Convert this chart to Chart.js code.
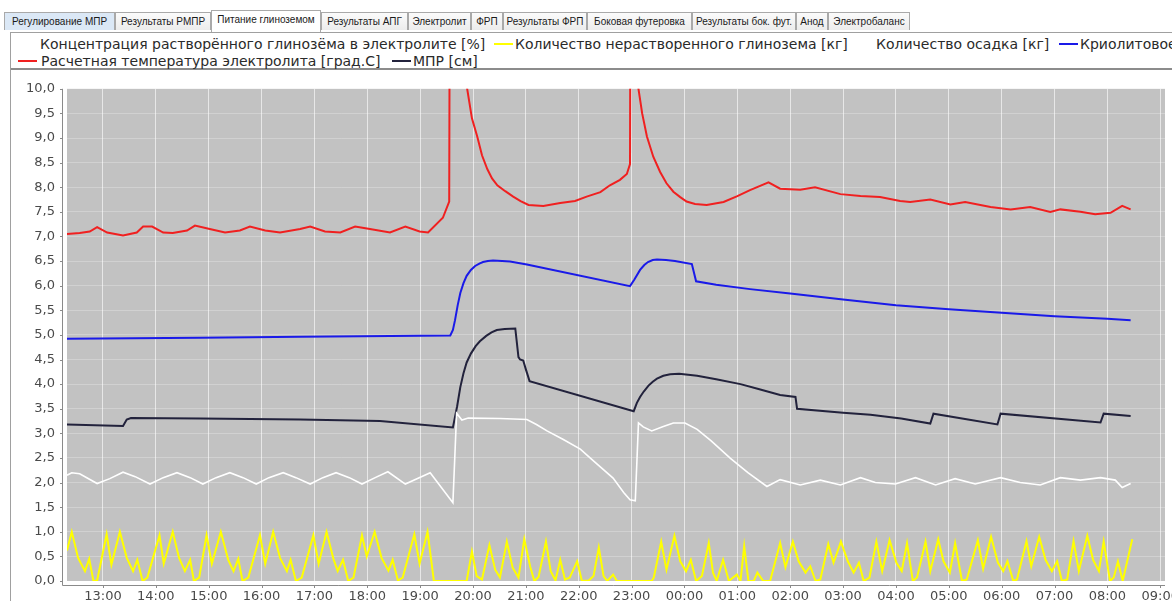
<!DOCTYPE html>
<html><head><meta charset="utf-8">
<script src="https://cdn.jsdelivr.net/npm/chart.js@4.4.0/dist/chart.umd.min.js"></script>
<style>
html,body{margin:0;padding:0;width:1172px;height:601px;overflow:hidden;background:#fff;font-family:"DejaVu Sans",sans-serif;}
.tab{position:absolute;top:12px;height:18px;border:1px solid #a9a9a9;border-bottom:none;background:linear-gradient(#fbfbfb,#ececec);font:10px "Liberation Sans",Arial,sans-serif;color:#1a1a1a;line-height:17px;text-align:center;white-space:nowrap;overflow:hidden;box-sizing:border-box;}
.tab.sel{top:10px;height:22px;background:#fff;z-index:2;}
.tab.hov{background:#dbe8f6;}
#lgbox{position:absolute;left:10px;top:32px;width:1200px;height:35px;border-top:1px solid #a0a0a0;border-left:1px solid #a0a0a0;border-bottom:2px solid #8c8c8c;}
#panel{position:absolute;left:10px;top:32px;width:1px;height:569px;background:#a0a0a0;}
.li{position:absolute;font:14px "DejaVu Sans",sans-serif;color:#2a2a2a;white-space:nowrap;line-height:16px;}
.sym{position:absolute;height:2px;width:19px;}
#wrap{position:absolute;left:11px;top:69px;width:1189px;height:532px;}
</style></head>
<body>
<div id="tabs"></div>
<div id="lgbox"></div>
<div id="panel"></div>
<div id="legend"></div>
<div id="wrap"><canvas id="c" width="1189" height="532" style="width:1189px;height:532px"></canvas></div>
<script>
// ---- tabs / legend text ----
const tabNames = ['Регулирование МПР','Результаты РМПР','Питание глиноземом','Результаты АПГ','Электролит','ФРП','Результаты ФРП','Боковая футеровка','Результаты бок. фут.','Анод','Электробаланс'];
const seriesNames = ['Концентрация растворённого глинозёма в электролите [%]','Количество нерастворенного глинозема [кг]','Количество осадка [кг]','Криолитовое отношение','Расчетная температура электролита [град.С]','МПР [см]'];
const seriesColors = ['#ffffff','#ffff00','#ffffff','#1a1ae8','#f02020','#22223c'];

// ---- axis ticks ----
const tickHours = [13,14,15,16,17,18,19,20,21,22,23,24,25,26,27,28,29,30,31,32,33];
const tickLabels = ['13:00','14:00','15:00','16:00','17:00','18:00','19:00','20:00','21:00','22:00','23:00','00:00','01:00','02:00','03:00','04:00','05:00','06:00','07:00','08:00','09:00'];

// ---- series (time in hours from day start, >24 = next day) ----
// Концентрация растворённого глинозёма (white)
const tW = [12.32,12.41,12.56,12.89,13.13,13.38,13.61,13.89,14.14,14.40,14.65,14.89,15.14,15.40,15.65,15.90,16.14,16.41,16.65,16.92,17.16,17.41,17.66,17.90,18.15,18.39,18.72,19.19,19.62,19.69,19.79,19.91,20.51,21.02,21.20,21.40,21.70,22.03,22.30,22.65,22.85,22.97,23.07,23.13,23.22,23.38,23.60,23.79,24.01,24.24,24.50,24.87,25.20,25.56,25.81,26.19,26.57,26.95,27.33,27.61,27.99,28.37,28.75,29.12,29.50,29.98,30.35,30.73,31.11,31.49,31.87,32.15,32.28,32.44];
const vW = [2.15,2.20,2.18,1.98,2.08,2.21,2.12,1.97,2.10,2.20,2.10,1.97,2.10,2.20,2.10,1.97,2.10,2.20,2.10,1.97,2.10,2.20,2.10,1.97,2.10,2.22,1.97,2.20,1.59,3.41,3.27,3.31,3.30,3.28,3.18,3.05,2.88,2.68,2.42,2.09,1.80,1.65,1.63,3.21,3.13,3.05,3.14,3.21,3.21,3.08,2.85,2.49,2.20,1.92,2.06,1.95,2.05,1.95,2.10,2.00,1.97,2.10,1.95,2.08,1.97,2.10,2.00,1.95,2.10,2.05,2.10,2.05,1.90,1.98];

// Количество нерастворенного глинозема (yellow)
const tY = [12.32,12.41,12.53,12.66,12.74,12.82,12.89,13.07,13.16,13.32,13.45,13.57,13.65,13.75,13.84,14.07,14.15,14.32,14.44,14.55,14.65,14.72,14.82,14.96,15.06,15.23,15.37,15.47,15.56,15.64,15.75,15.97,16.07,16.22,16.35,16.48,16.55,16.65,16.76,16.98,17.08,17.23,17.36,17.44,17.54,17.64,17.74,17.90,17.99,18.14,18.27,18.40,18.48,18.58,18.67,18.89,18.99,19.14,19.26,19.88,19.98,20.07,20.17,20.31,20.42,20.51,20.64,20.75,20.86,20.97,21.08,21.16,21.24,21.38,21.47,21.56,21.65,21.74,21.83,21.97,22.06,22.19,22.28,22.38,22.47,22.54,22.65,22.72,23.38,23.42,23.56,23.66,23.81,23.92,24.03,24.12,24.22,24.33,24.46,24.54,24.61,24.73,24.84,24.92,24.99,25.06,25.13,25.21,25.31,25.38,25.49,25.62,25.81,25.91,26.05,26.16,26.29,26.38,26.48,26.57,26.72,26.82,26.96,27.09,27.20,27.30,27.39,27.50,27.63,27.74,27.88,28.01,28.11,28.21,28.32,28.40,28.56,28.65,28.80,28.90,29.02,29.12,29.25,29.34,29.55,29.65,29.80,29.93,30.03,30.11,30.22,30.29,30.47,30.56,30.71,30.83,30.95,31.05,31.14,31.24,31.36,31.46,31.62,31.73,31.84,31.93,32.05,32.12,32.20,32.29,32.47];
const vY = [0.62,1.00,0.47,0.20,0.45,0.00,0.01,0.95,0.33,1.00,0.47,0.20,0.43,0.00,0.07,0.93,0.35,1.00,0.47,0.20,0.43,0.00,0.07,0.93,0.35,1.00,0.43,0.20,0.45,0.00,0.07,0.93,0.35,1.00,0.47,0.20,0.43,0.00,0.07,0.93,0.35,1.00,0.45,0.20,0.43,0.00,0.07,0.93,0.50,1.00,0.47,0.21,0.43,0.01,0.07,0.95,0.35,1.00,0.00,0.00,0.60,0.10,0.03,0.73,0.23,0.07,0.80,0.27,0.07,0.85,0.30,0.00,0.08,0.80,0.20,0.01,0.43,0.03,0.07,0.40,0.00,0.01,0.10,0.68,0.10,0.00,0.13,0.00,0.00,0.07,0.80,0.23,0.92,0.40,0.20,0.43,0.00,0.10,0.77,0.17,0.00,0.43,0.00,0.07,0.13,0.00,0.71,0.00,0.00,0.17,0.00,0.00,0.77,0.28,0.80,0.40,0.17,0.30,0.00,0.03,0.75,0.37,0.80,0.40,0.17,0.37,0.00,0.07,0.80,0.20,0.83,0.37,0.20,0.77,0.00,0.07,0.80,0.20,0.85,0.40,0.17,0.77,0.00,0.03,0.83,0.25,0.90,0.37,0.20,0.40,0.00,0.03,0.81,0.30,0.90,0.43,0.20,0.40,0.00,0.03,0.81,0.20,0.92,0.43,0.20,0.80,0.00,0.07,0.40,0.00,0.85];

// Криолитовое отношение (blue)
const tB = [12.32,14.84,16.73,19.57,19.62,19.66,19.71,19.76,19.82,19.88,19.96,20.04,20.12,20.19,20.28,20.38,20.55,20.70,21.02,22.97,23.05,23.16,23.24,23.31,23.40,23.48,23.65,23.82,24.14,24.22,24.60,25.24,26.00,27.00,28.00,29.00,30.00,31.00,32.00,32.44];
const vB = [4.92,4.94,4.96,4.99,5.10,5.30,5.60,5.85,6.05,6.20,6.32,6.40,6.45,6.48,6.50,6.51,6.50,6.49,6.43,5.99,6.12,6.32,6.42,6.48,6.52,6.53,6.52,6.50,6.44,6.09,6.02,5.93,5.84,5.72,5.60,5.52,5.45,5.38,5.33,5.30];

// Расчетная температура электролита (red, scaled)
const tR = [12.32,12.56,12.75,12.89,13.08,13.38,13.64,13.76,13.93,14.14,14.32,14.59,14.74,15.02,15.31,15.59,15.78,16.07,16.35,16.73,16.92,17.20,17.49,17.77,18.05,18.43,18.72,18.99,19.15,19.43,19.55,19.60,19.86,19.89,19.98,20.08,20.17,20.27,20.36,20.46,20.61,20.76,20.90,21.05,21.33,21.65,21.93,22.15,22.41,22.59,22.78,22.91,22.97,23.02,23.12,23.13,23.20,23.29,23.41,23.54,23.66,23.79,23.92,24.04,24.20,24.42,24.74,25.00,25.24,25.59,25.81,26.19,26.47,26.95,27.33,27.70,28.08,28.27,28.65,29.03,29.31,29.79,30.17,30.54,30.92,31.11,31.49,31.77,32.06,32.28,32.44];
const vR = [7.05,7.07,7.10,7.19,7.08,7.02,7.08,7.20,7.20,7.08,7.07,7.12,7.22,7.15,7.08,7.12,7.20,7.12,7.08,7.15,7.20,7.10,7.08,7.20,7.15,7.08,7.20,7.10,7.08,7.38,7.71,30.0,10.5,10.0,9.40,9.03,8.65,8.37,8.18,8.04,7.92,7.81,7.72,7.64,7.62,7.68,7.72,7.81,7.90,8.04,8.15,8.27,8.47,30.0,10.4,10.0,9.50,9.03,8.62,8.31,8.08,7.91,7.80,7.71,7.66,7.64,7.70,7.82,7.94,8.10,7.97,7.95,8.00,7.86,7.82,7.80,7.72,7.70,7.75,7.65,7.70,7.60,7.55,7.60,7.50,7.55,7.50,7.45,7.48,7.62,7.55];

// МПР (navy)
const tN = [12.32,13.38,13.45,13.53,14.84,16.73,18.24,19.62,19.70,19.76,19.82,19.88,19.96,20.05,20.13,20.25,20.35,20.45,20.60,20.80,20.86,20.89,20.95,21.00,21.07,23.04,23.10,23.16,23.23,23.32,23.40,23.48,23.60,23.73,23.90,24.24,24.60,25.06,25.40,25.81,26.10,26.13,27.00,27.52,28.10,28.65,28.71,29.92,29.98,31.87,31.93,32.44];
const vN = [3.18,3.15,3.28,3.31,3.30,3.28,3.25,3.12,3.55,3.94,4.22,4.44,4.62,4.77,4.87,4.98,5.05,5.10,5.12,5.13,4.55,4.50,4.48,4.30,4.06,3.45,3.62,3.74,3.85,3.97,4.05,4.11,4.17,4.20,4.21,4.17,4.10,4.00,3.90,3.78,3.74,3.50,3.42,3.38,3.30,3.20,3.40,3.18,3.40,3.22,3.40,3.35];

// ---- build tabs ----
const tabX = [4,115,211,321,408,471,503,587,692,796,828,910];
const tabsEl = document.getElementById('tabs');
tabNames.forEach((n,i)=>{
  const d=document.createElement('div');
  d.className='tab'+(i===2?' sel':'')+(i===0?' hov':'');
  d.style.left=tabX[i]+'px'; d.style.width=(tabX[i+1]-tabX[i])+'px';
  d.textContent=n; tabsEl.appendChild(d);
});
// ---- build legend ----
const lgPos = [[18,40,44],[494,515,44],[853,876,44],[1059,1080,44],[18,41,61],[392,413,61]];
const lg = document.getElementById('legend');
seriesNames.forEach((n,i)=>{
  const s=document.createElement('div'); s.className='sym';
  s.style.left=lgPos[i][0]+'px'; s.style.top=(lgPos[i][2]-1)+'px'; s.style.background=seriesColors[i];
  lg.appendChild(s);
  const t=document.createElement('div'); t.className='li';
  t.style.left=lgPos[i][1]+'px'; t.style.top=(lgPos[i][2]-8)+'px'; t.textContent=n;
  lg.appendChild(t);
});

function pts(t,v){return t.map((x,i)=>({x:x,y:v[i]}));}

const bgPlugin = {
  id:'bg',
  beforeDraw(ch){
    const a=ch.chartArea, c=ch.ctx;
    c.save(); c.fillStyle='#c2c2c2'; c.fillRect(a.left,a.top,a.right-a.left,a.bottom-a.top); c.restore();
  },
  afterDraw(ch){
    const a=ch.chartArea, c=ch.ctx;
    c.save(); c.strokeStyle='#8a8a8a'; c.lineWidth=1;
    c.beginPath();
    c.moveTo(a.left-4.5,a.top); c.lineTo(a.left-4.5,a.bottom+4.5); c.lineTo(a.right,a.bottom+4.5);
    const ys=ch.scales.y, xs=ch.scales.x;
    ys.ticks.forEach(tk=>{const y=Math.round(ys.getPixelForValue(tk.value))+0.5; c.moveTo(a.left-4.5,y); c.lineTo(a.left-7,y);});
    xs.ticks.forEach(tk=>{const x=Math.round(xs.getPixelForValue(tk.value))+0.5; c.moveTo(x,a.bottom+4.5); c.lineTo(x,a.bottom+7);});
    c.stroke(); c.restore();
  }
};

new Chart(document.getElementById('c'),{
  type:'line',
  data:{datasets:[
    {label:seriesNames[0],data:pts(tW,vW),borderColor:seriesColors[0],borderWidth:1.6},
    {label:seriesNames[1],data:pts(tY,vY),borderColor:seriesColors[1],borderWidth:2},
    {label:seriesNames[3],data:pts(tB,vB),borderColor:seriesColors[3],borderWidth:2},
    {label:seriesNames[4],data:pts(tR,vR),borderColor:seriesColors[4],borderWidth:2},
    {label:seriesNames[5],data:pts(tN,vN),borderColor:seriesColors[5],borderWidth:2}
  ]},
  options:{
    responsive:false,animation:false,
    layout:{padding:{top:9,right:35,left:0,bottom:0}},
    elements:{point:{radius:0,hoverRadius:0},line:{tension:0}},
    plugins:{legend:{display:false},tooltip:{enabled:false}},
    events:[],
    scales:{
      x:{type:'linear',min:12.32,max:33.09,
        afterBuildTicks(s){s.ticks=tickHours.map(h=>({value:h}));},
        afterFit(s){s.height=20;},
        ticks:{autoSkip:false,maxRotation:0,padding:8,color:'#4a4a4a',font:{family:'DejaVu Sans',size:13},
          callback:(v,i)=>tickLabels[i]},
        grid:{color:'rgba(255,255,255,0.6)',lineWidth:1,drawTicks:false},
        border:{display:false}},
      y:{type:'linear',min:0,max:10,
        afterFit(s){s.width=56;},
        ticks:{stepSize:0.5,padding:12,color:'#4a4a4a',font:{family:'DejaVu Sans',size:13},
          callback:v=>v.toFixed(1).replace('.',',')},
        grid:{color:'rgba(255,255,255,0.25)',lineWidth:1,drawTicks:false},
        border:{display:false}}
    }
  },
  plugins:[bgPlugin]
});
</script>
</body></html>
